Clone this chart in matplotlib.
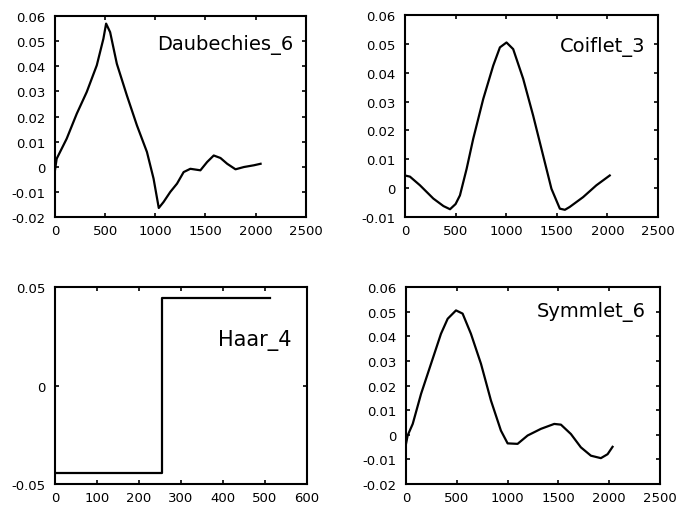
import numpy as np
import matplotlib
matplotlib.use('Agg')
import matplotlib.pyplot as plt
from matplotlib.ticker import FuncFormatter

# wavelet shapes
db_x = [0, 17, 117, 217, 317, 417, 483, 510, 550, 617, 717, 817, 917, 983, 1035,
        1083, 1150, 1217, 1283, 1350, 1450, 1517, 1583, 1650, 1717, 1800, 1883,
        1983, 2050]
db_y = [-0.0014, 0.0032, 0.0112, 0.0211, 0.0298, 0.0404, 0.0510, 0.0570, 0.0536,
        0.0410, 0.0284, 0.0165, 0.0059, -0.0047, -0.0164, -0.0140, -0.0100,
        -0.0067, -0.0021, -0.0008, -0.0014, 0.0019, 0.0045, 0.0035, 0.0012,
        -0.0010, -0.0001, 0.0006, 0.0012]

co_x = [0, 49, 148, 280, 380, 445, 500, 543, 609, 674, 773, 872, 938, 1003, 1069,
        1168, 1266, 1365, 1447, 1530, 1580, 1628, 1760, 1891, 2023]
co_y = [0.0044, 0.0040, 0.0010, -0.0036, -0.0062, -0.0073, -0.0055, -0.0025,
        0.0067, 0.0171, 0.0309, 0.0425, 0.0488, 0.0505, 0.0482, 0.0379, 0.0252,
        0.0113, -0.0002, -0.0071, -0.0075, -0.0065, -0.0031, 0.0010, 0.0044]

haar_x = [0, 256, 256, 512]
haar_y = [-0.0442, -0.0442, 0.0442, 0.0442]

sy_x = [0, 16, 66, 148, 246, 344, 410, 492, 557, 639, 738, 836, 934, 1000, 1098,
        1197, 1328, 1459, 1525, 1623, 1721, 1820, 1918, 1984, 2033]
sy_y = [-0.0037, -0.0003, 0.0044, 0.0166, 0.0288, 0.0410, 0.0471, 0.0505, 0.0492,
        0.0410, 0.0288, 0.0139, 0.0017, -0.0035, -0.0037, -0.0003, 0.0024, 0.0044,
        0.0041, 0.0003, -0.0051, -0.0085, -0.0095, -0.0079, -0.0049]

names = ['Daubechies_6', 'Coiflet_3', 'Haar_4', 'Symmlet_6']
x_ticks_long = [0, 500, 1000, 1500, 2000, 2500]
x_ticks_haar = [0, 100, 200, 300, 400, 500, 600]
y_ticks_db = [-0.02, -0.01, 0, 0.01, 0.02, 0.03, 0.04, 0.05, 0.06]
y_ticks_co = [-0.01, 0, 0.01, 0.02, 0.03, 0.04, 0.05, 0.06]
y_ticks_haar = [-0.05, 0, 0.05]
y_ticks_sy = [-0.02, -0.01, 0, 0.01, 0.02, 0.03, 0.04, 0.05, 0.06]

LW = 1.6


def style(ax, xt, yt, name, tx, ty, fs=14):
    ax.set_xticks(xt)
    ax.set_yticks(yt)
    ax.set_xlim(xt[0], xt[-1])
    ax.set_ylim(yt[0], yt[-1])
    ax.yaxis.set_major_formatter(FuncFormatter(lambda v, p: '%g' % round(v, 4)))
    ax.tick_params(direction='in', top=True, right=True, length=3, width=1.2,
                   labelsize=9.5)
    ax.tick_params(axis='x', pad=5)
    ax.tick_params(axis='y', pad=7)
    for s in ax.spines.values():
        s.set_linewidth(1.5)
    ax.text(tx, ty, name, transform=ax.transAxes, ha='right', va='center',
            fontsize=fs)


def main():
    fig = plt.figure(figsize=(6.87, 5.10), dpi=100)

    ax1 = fig.add_axes([0.080, 0.5725, 0.365, 0.394])
    ax1.plot(db_x, db_y, color='black', lw=LW)
    style(ax1, x_ticks_long, y_ticks_db, names[0], 0.95, 0.86)

    ax2 = fig.add_axes([0.5895, 0.5725, 0.3683, 0.396])
    ax2.plot(co_x, co_y, color='black', lw=LW)
    style(ax2, x_ticks_long, y_ticks_co, names[1], 0.95, 0.847)

    ax3 = fig.add_axes([0.080, 0.049, 0.3668, 0.3863])
    ax3.plot(haar_x, haar_y, color='black', lw=LW)
    style(ax3, x_ticks_haar, y_ticks_haar, names[2], 0.94, 0.736, fs=15)

    ax4 = fig.add_axes([0.591, 0.049, 0.3697, 0.3863])
    ax4.plot(sy_x, sy_y, color='black', lw=LW)
    style(ax4, x_ticks_long, y_ticks_sy, names[3], 0.945, 0.878)

    fig.savefig('out.png', dpi=100)


if __name__ == '__main__':
    main()
